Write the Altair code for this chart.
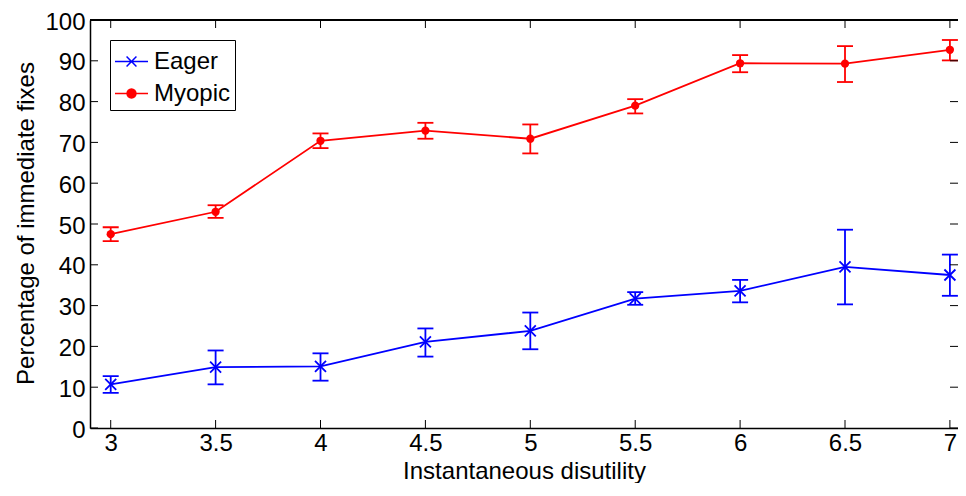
import math
import altair as alt
import pandas as pd

# ---- data ----
disutility = [3, 3.5, 4, 4.5, 5, 5.5, 6, 6.5, 7]

eager = [10.7, 14.9, 15.1, 21.1, 23.8, 31.7, 33.6, 39.5, 37.5]
eager_lo = [8.6, 10.7, 11.6, 17.5, 19.3, 30.2, 30.8, 30.3, 32.4]
eager_hi = [12.7, 19.0, 18.3, 24.4, 28.3, 33.3, 36.3, 48.6, 42.5]

myopic = [47.5, 53.0, 70.4, 72.9, 70.9, 79.0, 89.4, 89.3, 92.7]
myopic_lo = [45.8, 51.5, 68.6, 70.9, 67.3, 77.1, 87.2, 84.8, 90.1]
myopic_hi = [49.2, 54.6, 72.2, 74.8, 74.4, 80.6, 91.4, 93.6, 95.1]

series_names = ["Eager", "Myopic"]
series_colors = ["#0000ff", "#ff0000"]

x_ticks = [3, 3.5, 4, 4.5, 5, 5.5, 6, 6.5, 7]
y_ticks = [0, 10, 20, 30, 40, 50, 60, 70, 80, 90, 100]

rows = []
for name, ys_, lo_, hi_ in [("Eager", eager, eager_lo, eager_hi),
                            ("Myopic", myopic, myopic_lo, myopic_hi)]:
    for xv, yv, lv, hv in zip(disutility, ys_, lo_, hi_):
        rows.append({"series": name, "x": xv, "y": yv, "lo": lv, "hi": hv})
df = pd.DataFrame(rows)
xt_df = pd.DataFrame({"t": x_ticks})
yt_df = pd.DataFrame({"t": y_ticks})

W, H = 868, 408
FONT = "Liberation Sans"
FS = 24
LW = 1.8

xs = alt.Scale(domain=[2.9013, 7.0386], nice=False, zero=False)
ys = alt.Scale(domain=[0, 100], nice=False, zero=False)

x_axis = alt.Axis(values=x_ticks, labelExpr="datum.value + ''", ticks=False, tickSize=0,
                  domain=True, domainColor="black", domainWidth=1.5, grid=False,
                  labelFont=FONT, labelFontSize=FS, labelColor="black", labelPadding=3,
                  title="Instantaneous disutility", titleFont=FONT, titleFontSize=FS,
                  titleFontWeight="normal", titleColor="black",
                  titleBaseline="alphabetic", titleY=50,
                  labelFlush=False, labelOverlap=False)
y_axis = alt.Axis(values=y_ticks, ticks=False, tickSize=0,
                  domain=True, domainColor="black", domainWidth=1.5, grid=False,
                  labelFont=FONT, labelFontSize=FS, labelColor="black", labelPadding=5,
                  labelOffset=2,
                  title="Percentage of immediate fixes", titleFont=FONT, titleFontSize=FS,
                  titleFontWeight="normal", titleColor="black", titleBaseline="alphabetic",
                  titleX=-57, titleY=203, titleAlign="center", titleAngle=270,
                  labelFlush=False, labelOverlap=False)

# legend glyphs: short line with the series marker
eager_path = "M-1,0L1,0M-0.3,-0.3L0.3,0.3M-0.3,0.3L0.3,-0.3"
_r = 0.27
_pts = [(_r * math.cos(2 * math.pi * k / 16), _r * math.sin(2 * math.pi * k / 16))
        for k in range(16)]
myopic_path = "M-1,0L1,0M" + "L".join(f"{px:.3f},{py:.3f}" for px, py in _pts) + "Z"

legend = alt.Legend(
    title=None, orient="none", legendX=20, legendY=20,
    labelFont=FONT, labelFontSize=FS, labelColor="black", labelOffset=5,
    symbolSize=1089, symbolStrokeWidth=1.5, symbolOpacity=1, rowPadding=2,
    fillColor="white", strokeColor="black", padding=4, cornerRadius=0,
)

# colour scale with a data-derived domain (kept apart from the legend scales)
color = alt.Color("series:N", scale=alt.Scale(range=series_colors), legend=None)

base = alt.Chart(df)

line = base.mark_line(strokeWidth=LW).encode(
    x=alt.X("x:Q", scale=xs, axis=x_axis),
    y=alt.Y("y:Q", scale=ys, axis=y_axis),
    color=color,
)
err = base.mark_rule(strokeWidth=LW).encode(x="x:Q", y="lo:Q", y2="hi:Q", color=color)
cap_lo = base.mark_tick(orient="horizontal", size=16, thickness=LW, opacity=1).encode(
    x="x:Q", y="lo:Q", color=color)
cap_hi = base.mark_tick(orient="horizontal", size=16, thickness=LW, opacity=1).encode(
    x="x:Q", y="hi:Q", color=color)
pts_eager = base.transform_filter(alt.datum.series == "Eager").mark_point(
    shape="M-1,-1L1,1M1,-1L-1,1", size=121, strokeWidth=LW, filled=False, opacity=1
).encode(x="x:Q", y="y:Q", color=color)
pts_myopic = base.transform_filter(alt.datum.series == "Myopic").mark_circle(
    size=68, opacity=1
).encode(x="x:Q", y="y:Q", color=color)

# legend carrier: invisible marks, visible legend (line + marker symbols)
legend_layer = base.mark_point(strokeWidth=1.5, opacity=0, filled=True).encode(
    x="x:Q", y="y:Q",
    shape=alt.Shape("series:N", scale=alt.Scale(domain=series_names,
                                               range=[eager_path, myopic_path]),
                    legend=legend),
    stroke=alt.Stroke("series:N", scale=alt.Scale(domain=series_names, range=series_colors),
                      legend=legend),
    fill=alt.Fill("series:N", scale=alt.Scale(domain=series_names, range=series_colors),
                  legend=legend),
)

frame_top = alt.Chart(xt_df).mark_rule(color="black", strokeWidth=1.5).encode(
    x=alt.value(0), x2=alt.value(W), y=alt.value(0))
tick_bottom = alt.Chart(xt_df).mark_rule(color="black", strokeWidth=1).encode(
    x=alt.X("t:Q", scale=xs), y=alt.value(H - 8), y2=alt.value(H))
tick_top = alt.Chart(xt_df).mark_rule(color="black", strokeWidth=1).encode(
    x=alt.X("t:Q", scale=xs), y=alt.value(0), y2=alt.value(8))
tick_left = alt.Chart(yt_df).mark_rule(color="black", strokeWidth=1).encode(
    y=alt.Y("t:Q", scale=ys), x=alt.value(0), x2=alt.value(8))
tick_right = alt.Chart(yt_df).mark_rule(color="black", strokeWidth=1).encode(
    y=alt.Y("t:Q", scale=ys), x=alt.value(W - 8), x2=alt.value(W))

chart = alt.layer(
    line, err, cap_lo, cap_hi, pts_eager, pts_myopic, legend_layer,
    frame_top, tick_bottom, tick_top, tick_left, tick_right,
).properties(
    width=W, height=H,
    autosize=alt.AutoSizeParams(type="none"),
    padding={"left": 82, "top": 12, "right": 0, "bottom": 55},
    background="white",
).configure_view(stroke=None)

chart.save("out.html", embed_options={"renderer": "svg", "actions": False})
